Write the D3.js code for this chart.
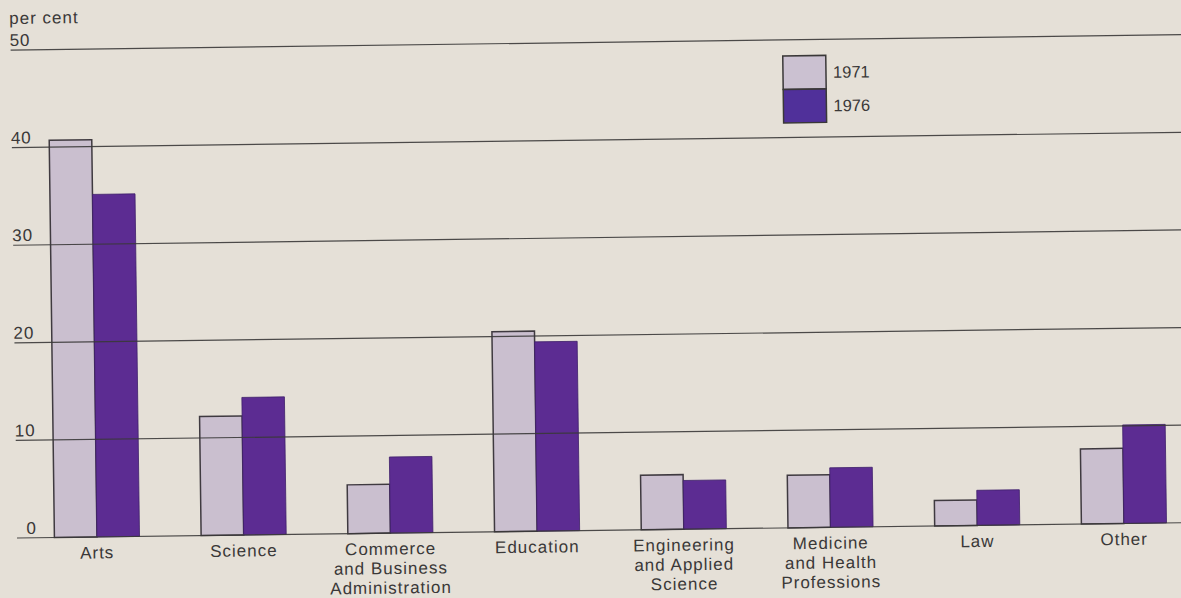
<!DOCTYPE html>
<html>
<head>
<meta charset="utf-8">
<script src="https://cdn.jsdelivr.net/npm/d3@7"></script>
<style>
  html, body { margin: 0; padding: 0; background: #e5e0d7; }
  svg { display: block; }
  text { font-family: "Liberation Sans", Arial, Helvetica, sans-serif; fill: #3a3838; }
</style>
</head>
<body>
<script>
// ---- data ----
const categories = ["Arts", "Science", "Commerce\nand Business\nAdministration", "Education",
  "Engineering\nand Applied\nScience", "Medicine\nand Health\nProfessions", "Law", "Other"];
const seriesNames = ["1971", "1976"];
const values1971 = [40.7, 12.2, 5.0, 20.5, 5.6, 5.4, 2.6, 7.7];
const values1976 = [35.1, 14.1, 7.8, 19.4, 5.0, 6.1, 3.6, 10.1];
const yTicks = [0, 10, 20, 30, 40, 50];
const yTitle = "per cent";

const W = 1181, H = 598;
const colors = { "1971": "#cabfcf", "1976": "#5c2c92" };
const legendColors = { "1971": "#cbc1d1", "1976": "#50309a" };

const rows = [];
categories.forEach((c, i) => {
  rows.push({ cat: c, s: "1971", v: values1971[i] });
  rows.push({ cat: c, s: "1976", v: values1976[i] });
});

const svg = d3.select("body").append("svg").attr("width", W).attr("height", H);
svg.append("rect").attr("width", W).attr("height", H).attr("fill", "#e5e0d7");

// the printed page is slightly rotated
const g = svg.append("g").attr("transform", "rotate(-0.75,17,538)");

const x = d3.scaleBand().domain(categories).range([23.6, 1197.4]).paddingInner(0.42).paddingOuter(0.21);
const xs = d3.scaleBand().domain(seriesNames).range([0, x.bandwidth()]);
const y = d3.scaleLinear().domain([0, 50]).range([538, 50]);

// bars
g.selectAll("rect.bar").data(rows).join("rect")
  .attr("class", "bar")
  .attr("x", d => x(d.cat) + xs(d.s))
  .attr("y", d => y(d.v))
  .attr("width", xs.bandwidth())
  .attr("height", d => y(0) - y(d.v))
  .attr("fill", d => colors[d.s])
  .attr("stroke", d => d.s === "1971" ? "#3f3a40" : "#3e1f6a")
  .attr("stroke-width", d => d.s === "1971" ? 1.5 : 0.8);

// gridlines (printed over bars)
g.selectAll("line.grid").data(yTicks).join("line")
  .attr("class", "grid")
  .attr("x1", 17).attr("x2", 1240)
  .attr("y1", d => y(d)).attr("y2", d => y(d))
  .attr("stroke", "#3a3838").attr("stroke-width", 1.2)
  .attr("stroke-opacity", 0.9);

// tick labels
g.selectAll("text.tick").data(yTicks).join("text")
  .attr("class", "tick")
  .attr("x", 37).attr("y", d => y(d) - 4)
  .attr("text-anchor", "end")
  .attr("font-size", 17)
  .attr("letter-spacing", 1)
  .text(d => d);

g.append("text")
  .attr("x", 16).attr("y", y(50) - 26)
  .attr("font-size", 17)
  .attr("letter-spacing", 1)
  .text(yTitle);

// category labels
const catLabels = g.selectAll("text.cat").data(categories).join("text")
  .attr("class", "cat")
  .attr("text-anchor", "middle")
  .attr("font-size", 17)
  .attr("letter-spacing", 1)
  .attr("transform", d => `translate(${x(d) + x.bandwidth() / 2},${y(0) + 21.5})`);
catLabels.each(function(d) {
  d3.select(this).selectAll("tspan").data(d.split("\n")).join("tspan")
    .attr("x", 0).attr("dy", (t, i) => i === 0 ? 0 : 19.5)
    .text(t => t);
});

// legend
const lg = g.append("g").attr("transform", "translate(789,66)");
lg.selectAll("rect").data(seriesNames).join("rect")
  .attr("x", 0).attr("y", (d, i) => i * 33.5)
  .attr("width", 43).attr("height", 33.5)
  .attr("fill", d => legendColors[d])
  .attr("stroke", "#3a3838").attr("stroke-width", 1.5);
lg.selectAll("text").data(seriesNames).join("text")
  .attr("x", 50).attr("y", (d, i) => i * 33.5 + 22.5)
  .attr("font-size", 16.5)
  .text(d => d);
</script>
</body>
</html>
